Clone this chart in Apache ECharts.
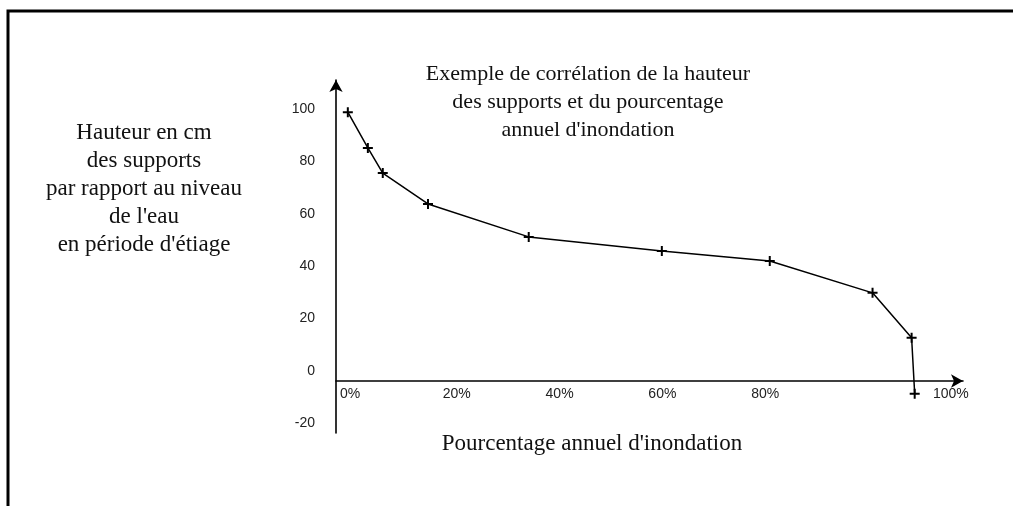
<!DOCTYPE html>
<html>
<head>
<meta charset="utf-8">
<title>Hauteur des supports</title>
<script src="https://cdn.jsdelivr.net/npm/echarts@6/dist/echarts.min.js"></script>
<style>
	html, body { margin: 0; padding: 0; background: #fff; }
	#chart { width: 1013px; height: 506px; }
</style>
</head>
<body>
<div id="chart"></div>
<script>
// valeurs
var percentInondation = [2.3, 6.2, 9.1, 17.9, 37.5, 63.4, 84.4, 104.4, 112.0, 112.6];
var hauteurSupports = [102.7, 89.0, 79.4, 67.6, 55.0, 49.6, 45.8, 33.6, 16.4, -5.0];

var xTicks = [0, 20, 40, 60, 80];
var yTicks = [-20, 0, 20, 40, 60, 80, 100];

var titreGraphique = "Exemple de corrélation de la hauteur\ndes supports et du pourcentage\nannuel d'inondation";
var titreY = "Hauteur en cm\ndes supports\npar rapport au niveau\nde l'eau\nen période d'étiage";
var titreX = "Pourcentage annuel d'inondation";
var finX = "100%";

(function(echarts) {
	var serif = '"Liberation Serif", "DejaVu Serif", serif';
	var sans = '"Liberation Sans", Arial, sans-serif';
	var plus = 'path://M4,0H6V4H10V6H6V10H4V6H0V4H4Z';

	var points = percentInondation.map(function(x, i) {
		return [x, hauteurSupports[i]];
	});

	var option = {
		backgroundColor: '#fff',
		animation: false,
		title: [{
			text: titreGraphique,
			left: 583,
			top: 55,
			textAlign: 'center',
			textStyle: { fontFamily: serif, fontSize: 22, fontWeight: 'normal', color: '#111', lineHeight: 28 }
		}, {
			text: titreY,
			left: 139,
			top: 114,
			textAlign: 'center',
			textStyle: { fontFamily: serif, fontSize: 23, fontWeight: 'normal', color: '#111', lineHeight: 28 }
		}, {
			text: titreX,
			left: 587,
			top: 427,
			textAlign: 'center',
			textStyle: { fontFamily: serif, fontSize: 23, fontWeight: 'normal', color: '#111', lineHeight: 24 }
		}],
		graphic: [{
			type: 'rect',
			shape: { x: 8, y: 11, width: 1100, height: 600 },
			style: { fill: 'none', stroke: '#000', lineWidth: 3 },
			silent: true
		}],
		grid: { left: 336, right: 50, top: 80, bottom: 73 },
		xAxis: {
			type: 'value',
			min: 0,
			max: 122,
			interval: 20,
			// l'axe des x passe par la valeur 0 de l'axe des y
			offset: -52,
			name: finX,
			nameLocation: 'end',
			nameGap: -30,
			nameTextStyle: { fontFamily: sans, fontSize: 14, color: '#222', verticalAlign: 'top', padding: [6, 0, 0, 0] },
			axisLine: { onZero: false, symbol: ['none', 'arrow'], symbolSize: [10, 12], lineStyle: { color: '#000', width: 1.6 } },
			axisTick: { show: false },
			splitLine: { show: false },
			axisLabel: {
				fontFamily: sans, fontSize: 14, color: '#222',
				align: 'left', margin: 6, padding: [0, 0, 0, 4],
				formatter: function(v) { return xTicks.indexOf(v) > -1 ? v + '%' : ''; }
			}
		},
		yAxis: {
			type: 'value',
			min: -20,
			max: 115,
			interval: 20,
			axisLine: { onZero: false, symbol: ['none', 'arrow'], symbolSize: [10, 12], lineStyle: { color: '#000', width: 1.6 } },
			axisTick: { show: false },
			splitLine: { show: false },
			axisLabel: {
				fontFamily: sans, fontSize: 14, color: '#222',
				margin: 21, verticalAlign: 'bottom', lineHeight: 20,
				formatter: function(v) { return yTicks.indexOf(v) > -1 ? String(v) : ''; }
			}
		},
		series: [{
			type: 'line',
			data: points,
			symbol: plus,
			symbolSize: 10,
			itemStyle: { color: '#000' },
			lineStyle: { color: '#000', width: 1.5 }
		}]
	};

	var chart = echarts.init(document.getElementById('chart'));
	chart.setOption(option);
})(echarts);
</script>
</body>
</html>
